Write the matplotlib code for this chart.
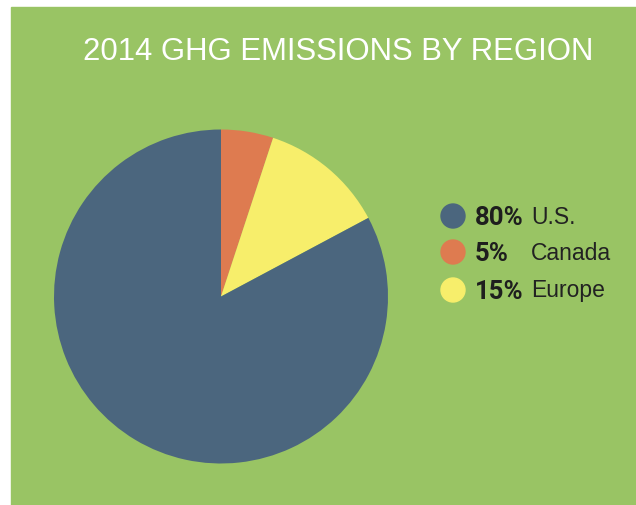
import matplotlib.pyplot as plt
from matplotlib.patches import Rectangle, Circle

# data
regions = ['Canada', 'Europe', 'U.S.']
shares = [5.05, 12.15, 82.8]          # slice sizes as drawn
pct_labels = ['5%', '15%', '80%']      # printed legend values
colors = ['#DE7B50', '#F7EE6B', '#4B667E']
legend_order = [2, 0, 1]

green = '#99C464'
W, H = 636, 506

fig = plt.figure(figsize=(W / 100, H / 100), dpi=100, facecolor='white')

# background panel + legend in pixel coordinates
bg = fig.add_axes([0, 0, 1, 1])
bg.set_xlim(0, W)
bg.set_ylim(H, 0)
bg.axis('off')
bg.add_patch(Rectangle((11, 8), W - 11, H - 8, color=green, zorder=0))

bg.text(338, 52, '2014 GHG EMISSIONS BY REGION', color='white', fontsize=22.4,
        family='Liberation Sans', ha='center', va='center')

ys = [217, 253, 291]
for y, i in zip(ys, legend_order):
    bg.add_patch(Circle((453, y), 12, color=colors[i], zorder=2))
    bg.text(475, y + 1, pct_labels[i], fontsize=18.5, fontweight='bold',
            family='Roboto', color='#1E1E1E', ha='left', va='center')
    bg.text(531, y, regions[i], fontsize=16.5, family='Liberation Sans',
            color='#222222', ha='left', va='center')

# pie
cx, cy, r = 221, 297.5, 167
ax = fig.add_axes([(cx - r) / W, (H - cy - r) / H, 2 * r / W, 2 * r / H])
ax.pie(shares, colors=colors, startangle=90, counterclock=False, radius=1,
       wedgeprops=dict(linewidth=0))
ax.set_xlim(-1, 1)
ax.set_ylim(-1, 1)
ax.axis('off')

fig.savefig('out.png', dpi=100, facecolor='white')
